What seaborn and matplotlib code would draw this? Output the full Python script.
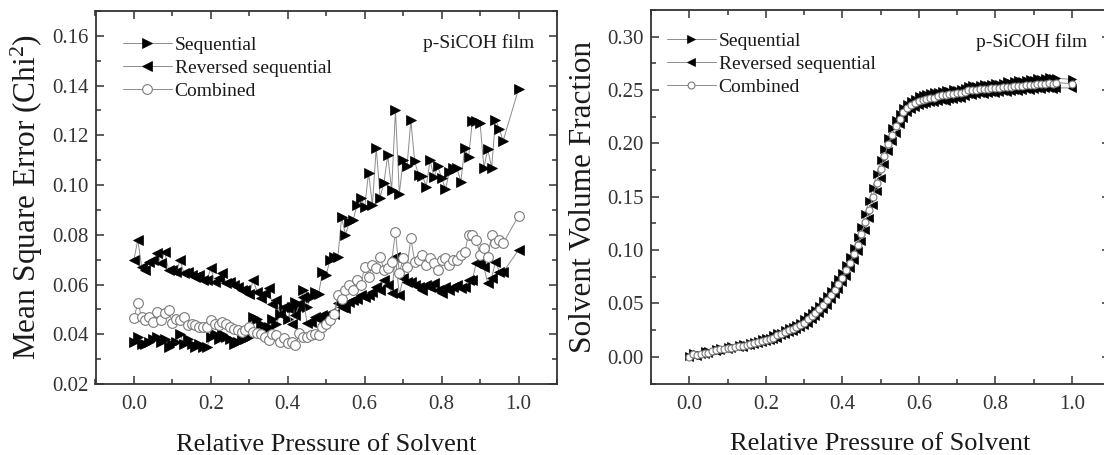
import matplotlib
matplotlib.use("Agg")
import matplotlib.pyplot as plt
import seaborn as sns
from matplotlib.ticker import MultipleLocator

# ---------------- data ----------------
pressure = [0.00, 0.01, 0.02, 0.03, 0.04, 0.05, 0.06, 0.07, 0.08, 0.09,
            0.10, 0.11, 0.12, 0.13, 0.14, 0.15, 0.16, 0.17, 0.18, 0.19,
            0.20, 0.21, 0.22, 0.23, 0.24, 0.25, 0.26, 0.27, 0.28, 0.29,
            0.30, 0.31, 0.32, 0.33, 0.34, 0.35, 0.36, 0.37, 0.38, 0.39,
            0.40, 0.41, 0.42, 0.43, 0.44, 0.45, 0.46, 0.47, 0.48, 0.49,
            0.50, 0.51, 0.52, 0.53, 0.54, 0.55, 0.56, 0.57, 0.58, 0.59,
            0.60, 0.61, 0.62, 0.63, 0.64, 0.65, 0.66, 0.67, 0.68, 0.69,
            0.70, 0.71, 0.72, 0.73, 0.74, 0.75, 0.76, 0.77, 0.78, 0.79,
            0.80, 0.81, 0.82, 0.83, 0.84, 0.85, 0.86, 0.87, 0.88, 0.89,
            0.90, 0.91, 0.92, 0.93, 0.94, 0.95, 0.96, 1.00]

# Left panel: mean square error
mse_sequential = [0.037, 0.039, 0.036, 0.036, 0.037, 0.038, 0.039, 0.037, 0.038, 0.035,
                  0.036, 0.037, 0.040, 0.036, 0.038, 0.036, 0.035, 0.036, 0.035, 0.035,
                  0.039, 0.040, 0.038, 0.040, 0.039, 0.038, 0.036, 0.037, 0.038, 0.038,
                  0.039, 0.047, 0.046, 0.044, 0.042, 0.043, 0.046, 0.044, 0.048, 0.050,
                  0.046, 0.051, 0.053, 0.050, 0.058, 0.051, 0.055, 0.057, 0.056, 0.065,
                  0.064, 0.070, 0.071, 0.071, 0.087, 0.080, 0.085, 0.086, 0.092, 0.095,
                  0.091, 0.105, 0.092, 0.115, 0.095, 0.101, 0.112, 0.098, 0.130, 0.0965,
                  0.110, 0.1075, 0.126, 0.1095, 0.104, 0.1038, 0.0994, 0.110, 0.1032, 0.1075,
                  0.103, 0.0983, 0.1054, 0.1067, 0.1067, 0.1014, 0.1148, 0.1112, 0.1258, 0.1258,
                  0.1249, 0.107, 0.1144, 0.107, 0.1262, 0.1225, 0.1178, 0.1386]

mse_reversed = [0.070, 0.078, 0.067, 0.066, 0.069, 0.070, 0.0726, 0.0686, 0.0732, 0.0659,
                0.066, 0.065, 0.0699, 0.0646, 0.065, 0.0639, 0.063, 0.0639, 0.062, 0.0619,
                0.0666, 0.061, 0.0625, 0.0646, 0.0605, 0.061, 0.0598, 0.0592, 0.058, 0.0578,
                0.056, 0.0619, 0.0571, 0.0545, 0.0565, 0.0585, 0.052, 0.0538, 0.048, 0.0511,
                0.0505, 0.044, 0.0478, 0.052, 0.0551, 0.0444, 0.045, 0.0471, 0.046, 0.0478,
                0.047, 0.0484, 0.048, 0.0525, 0.051, 0.0505, 0.053, 0.0538, 0.054, 0.0558,
                0.055, 0.0558, 0.057, 0.0592, 0.058, 0.0619, 0.060, 0.0565, 0.0712, 0.0558,
                0.0625, 0.061, 0.0612, 0.060, 0.0592, 0.058, 0.0598, 0.059, 0.0605, 0.058,
                0.0565, 0.059, 0.058, 0.0592, 0.060, 0.0585, 0.059, 0.0619, 0.062, 0.0686,
                0.0686, 0.067, 0.0605, 0.0625, 0.0692, 0.0652, 0.065, 0.0739]

mse_combined = [0.0464, 0.0527, 0.047, 0.0458, 0.0471, 0.045, 0.0491, 0.0458, 0.0484, 0.0498,
                0.0444, 0.046, 0.0458, 0.047, 0.0437, 0.044, 0.0437, 0.043, 0.0431, 0.0431,
                0.0458, 0.044, 0.0437, 0.0451, 0.044, 0.0431, 0.042, 0.0417, 0.041, 0.0417,
                0.0431, 0.041, 0.0404, 0.040, 0.039, 0.0377, 0.040, 0.0397, 0.037, 0.0385,
                0.0364, 0.037, 0.0357, 0.0404, 0.039, 0.039, 0.0397, 0.040, 0.0397, 0.0431,
                0.044, 0.0458, 0.048, 0.0558, 0.054, 0.0578, 0.0598, 0.058, 0.0619, 0.060,
                0.0672, 0.063, 0.0679, 0.0666, 0.0712, 0.066, 0.0666, 0.0692, 0.0813, 0.0646,
                0.0706, 0.067, 0.0786, 0.0692, 0.0699, 0.0719, 0.068, 0.0706, 0.0686, 0.0659,
                0.0699, 0.0706, 0.068, 0.0699, 0.070, 0.0719, 0.073, 0.080, 0.080, 0.0779,
                0.072, 0.0746, 0.071, 0.080, 0.0766, 0.078, 0.0766, 0.0876]

# Right panel: solvent volume fraction
vf_sequential = [0.001, 0.004, 0.003, 0.002, 0.005, 0.005, 0.004, 0.007, 0.008, 0.006,
                 0.009, 0.010, 0.008, 0.011, 0.012, 0.011, 0.013, 0.014, 0.015, 0.017,
                 0.018, 0.018, 0.020, 0.022, 0.022, 0.025, 0.027, 0.028, 0.030, 0.032,
                 0.035, 0.038, 0.041, 0.044, 0.048, 0.052, 0.057, 0.062, 0.067, 0.073,
                 0.079, 0.086, 0.094, 0.102, 0.112, 0.122, 0.134, 0.146, 0.158, 0.171,
                 0.184, 0.195, 0.205, 0.214, 0.222, 0.228, 0.233, 0.237, 0.240, 0.242,
                 0.244, 0.245, 0.246, 0.247, 0.248, 0.248, 0.249, 0.250, 0.249, 0.251,
                 0.250, 0.251, 0.252, 0.254, 0.255, 0.254, 0.255, 0.256, 0.255, 0.256,
                 0.257, 0.256, 0.257, 0.258, 0.257, 0.258, 0.259, 0.258, 0.259, 0.260,
                 0.259, 0.261, 0.260, 0.261, 0.262, 0.261, 0.261, 0.260]

vf_reversed = [0.000, 0.002, 0.001, 0.003, 0.003, 0.004, 0.006, 0.005, 0.006, 0.008,
               0.007, 0.008, 0.010, 0.009, 0.009, 0.011, 0.011, 0.012, 0.013, 0.014,
               0.015, 0.016, 0.017, 0.018, 0.020, 0.021, 0.023, 0.024, 0.026, 0.028,
               0.030, 0.032, 0.035, 0.038, 0.041, 0.045, 0.049, 0.054, 0.059, 0.064,
               0.070, 0.076, 0.083, 0.091, 0.099, 0.109, 0.119, 0.130, 0.142, 0.155,
               0.168, 0.181, 0.193, 0.202, 0.210, 0.218, 0.224, 0.229, 0.232, 0.234,
               0.236, 0.237, 0.238, 0.239, 0.239, 0.240, 0.241, 0.240, 0.242, 0.242,
               0.243, 0.243, 0.244, 0.246, 0.245, 0.246, 0.247, 0.246, 0.247, 0.248,
               0.247, 0.248, 0.249, 0.248, 0.249, 0.250, 0.249, 0.250, 0.251, 0.250,
               0.251, 0.252, 0.251, 0.252, 0.252, 0.251, 0.252, 0.252]

vf_combined = [0.000, 0.003, 0.002, 0.003, 0.004, 0.004, 0.005, 0.006, 0.007, 0.007,
               0.008, 0.008, 0.009, 0.010, 0.010, 0.011, 0.012, 0.013, 0.014, 0.015,
               0.016, 0.017, 0.018, 0.020, 0.021, 0.023, 0.025, 0.026, 0.028, 0.030,
               0.032, 0.035, 0.038, 0.041, 0.045, 0.049, 0.053, 0.058, 0.063, 0.068,
               0.074, 0.081, 0.088, 0.096, 0.105, 0.115, 0.126, 0.138, 0.150, 0.163,
               0.176, 0.188, 0.199, 0.208, 0.216, 0.223, 0.229, 0.233, 0.236, 0.238,
               0.240, 0.241, 0.242, 0.243, 0.243, 0.244, 0.245, 0.245, 0.246, 0.246,
               0.247, 0.247, 0.248, 0.250, 0.250, 0.250, 0.251, 0.251, 0.251, 0.252,
               0.252, 0.252, 0.253, 0.253, 0.253, 0.254, 0.254, 0.254, 0.255, 0.255,
               0.255, 0.256, 0.256, 0.256, 0.257, 0.256, 0.257, 0.256]

series_labels = ["Sequential", "Reversed sequential", "Combined"]
film_label = "p-SiCOH film"
x_label = "Relative Pressure of Solvent"
y_label_left = "Mean Square Error (Chi$^{2}$)"
y_label_right = "Solvent Volume Fraction"

# ---------------- style ----------------
sns.set_style("ticks")
plt.rcParams["font.family"] = ["Liberation Serif", "DejaVu Serif"]
plt.rcParams["mathtext.fontset"] = "custom"
plt.rcParams["mathtext.rm"] = "Liberation Serif"
plt.rcParams["mathtext.it"] = "Liberation Serif:italic"
plt.rcParams["axes.edgecolor"] = "#333333"
plt.rcParams["text.color"] = "#1a1a1a"
plt.rcParams["axes.labelcolor"] = "#1a1a1a"
plt.rcParams["xtick.color"] = "#333333"
plt.rcParams["ytick.color"] = "#333333"

W, H = 1104, 455
fig = plt.figure(figsize=(W / 100, H / 100), dpi=100)

def px_axes(left, right, top, bottom):
    return fig.add_axes([left / W, 1 - bottom / H, (right - left) / W, (bottom - top) / H])

axL = px_axes(95.5, 557, 11, 384)
axR = px_axes(651, 1110, 10, 383.5)

line_col = "#8c8c8c"

def draw(ax, ys, ms_tri, ms_circ):
    seq, rev, comb = ys
    sns.lineplot(x=pressure, y=seq, ax=ax, sort=False, estimator=None, color=line_col,
                 linewidth=0.7, marker=">", markersize=ms_tri, markerfacecolor="black",
                 markeredgecolor="black", markeredgewidth=0.5, label=series_labels[0])
    sns.lineplot(x=pressure, y=rev, ax=ax, sort=False, estimator=None, color=line_col,
                 linewidth=0.7, marker="<", markersize=ms_tri, markerfacecolor="black",
                 markeredgecolor="black", markeredgewidth=0.5, label=series_labels[1])
    sns.lineplot(x=pressure, y=comb, ax=ax, sort=False, estimator=None, color=line_col,
                 linewidth=0.7, marker="o", markersize=ms_circ, markerfacecolor="white",
                 markeredgecolor="#7a7a7a", markeredgewidth=0.8, label=series_labels[2])

draw(axL, (mse_sequential, mse_reversed, mse_combined), 7.5, 7)
draw(axR, (vf_sequential, vf_reversed, vf_combined), 5.5, 5.0)

# axes config
axL.set_xlim(-0.1, 1.1)
axL.set_ylim(0.02, 0.17)
axL.yaxis.set_major_locator(MultipleLocator(0.02))
axL.yaxis.set_minor_locator(MultipleLocator(0.01))
axR.set_xlim(-0.1, 1.1)
axR.set_ylim(-0.025, 0.325)
axR.yaxis.set_major_locator(MultipleLocator(0.05))
axR.yaxis.set_minor_locator(MultipleLocator(0.025))

for ax in (axL, axR):
    ax.xaxis.set_major_locator(MultipleLocator(0.2))
    ax.xaxis.set_minor_locator(MultipleLocator(0.1))
    ax.xaxis.set_major_formatter(matplotlib.ticker.FormatStrFormatter("%.1f"))
    ax.yaxis.set_major_formatter(matplotlib.ticker.FormatStrFormatter("%.2f"))
    for s in ax.spines.values():
        s.set_visible(True)
        s.set_linewidth(1.3)
    ax.tick_params(which="both", direction="in", top=True, right=True, width=1.1)
    ax.tick_params(which="major", length=6)
    ax.tick_params(which="minor", length=3.5)
    ax.tick_params(axis="x", which="major", labelsize=15, pad=8)
    ax.tick_params(axis="y", which="major", labelsize=15, pad=5)
    ax.set_xlabel(x_label, fontsize=19, labelpad=14)
    ax.text(0.95, 0.914, film_label, transform=ax.transAxes, ha="right", va="center",
            fontsize=14)

axL.set_ylabel(y_label_left, fontsize=22.5, labelpad=5)
axR.set_ylabel(y_label_right, fontsize=22.5, labelpad=7)

axL.legend(loc="upper left", bbox_to_anchor=(0.06, 0.932), frameon=False, fontsize=14,
           handlelength=2.5, handletextpad=0.15, labelspacing=0.28, borderpad=0,
           borderaxespad=0)
axR.legend(loc="upper left", bbox_to_anchor=(0.035, 0.94), frameon=False, fontsize=14,
           handlelength=2.5, handletextpad=0.15, labelspacing=0.28, borderpad=0,
           borderaxespad=0)

fig.savefig("out.png", dpi=100)
